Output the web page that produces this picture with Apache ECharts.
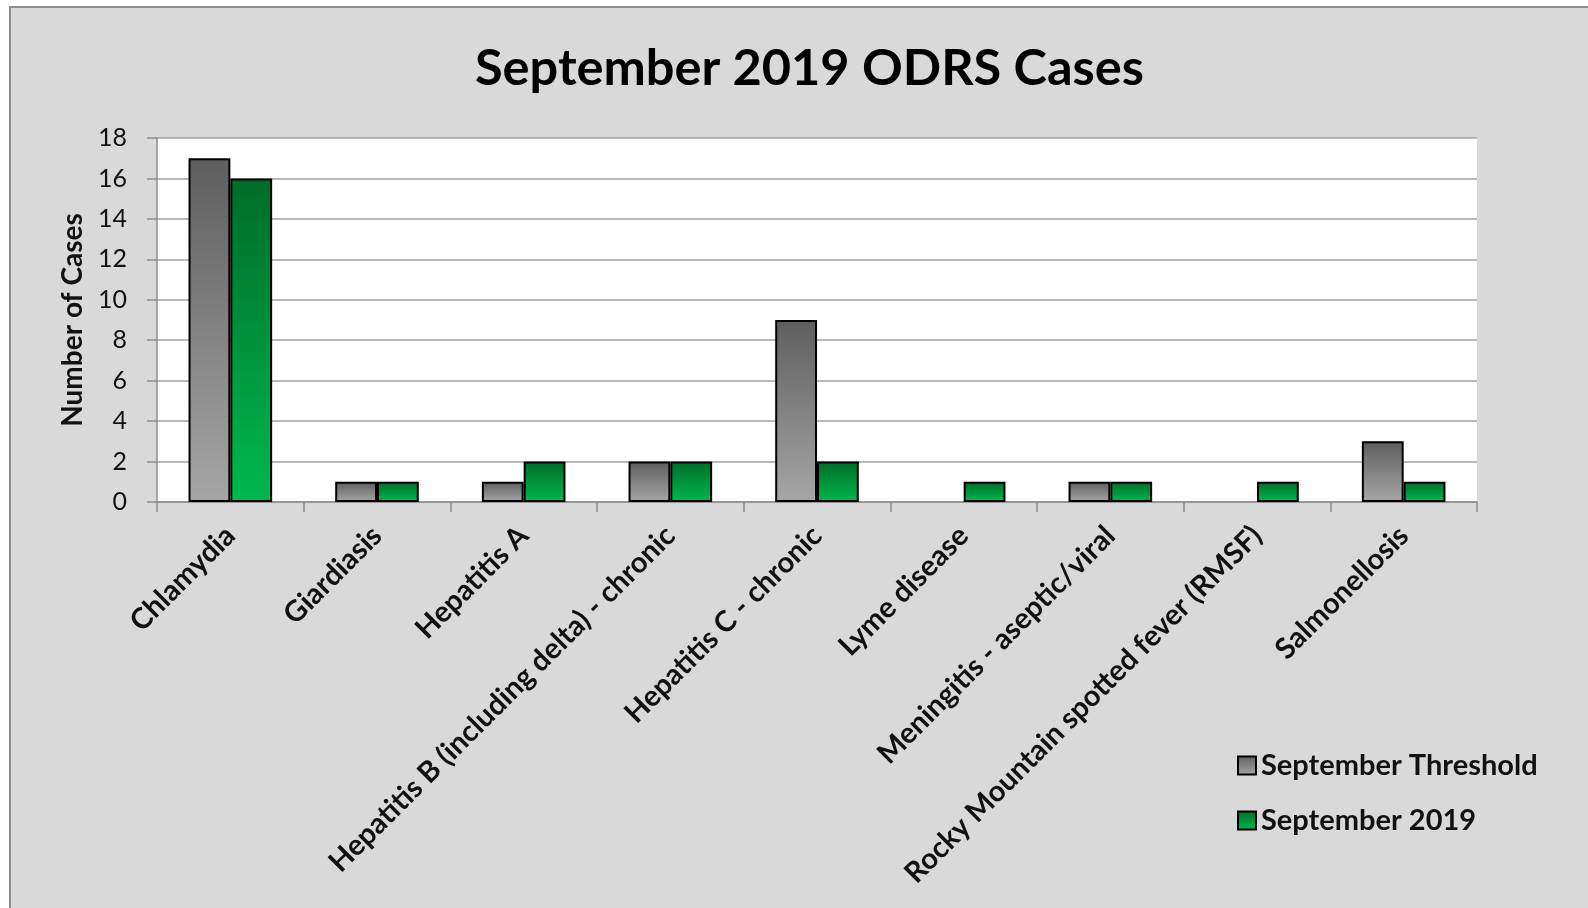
<!DOCTYPE html>
<html><head><meta charset="utf-8">
<script src="https://cdn.jsdelivr.net/npm/echarts@6/dist/echarts.min.js"></script>
<style>
html,body{margin:0;padding:0;background:#fff;width:1588px;height:908px;overflow:hidden}
#frame{position:absolute;left:9px;top:6px;width:1600px;height:920px;background:#d9d9d9;border-left:2px solid #8c8c8c;border-top:2px solid #8c8c8c}
#chart{position:absolute;left:0;top:0;width:1588px;height:908px}
</style></head>
<body>
<div id="frame"></div>
<div id="chart"></div>
<script>
const categories = ["Chlamydia","Giardiasis","Hepatitis A","Hepatitis B (including delta) - chronic","Hepatitis C - chronic","Lyme disease","Meningitis - aseptic/viral","Rocky Mountain spotted fever (RMSF)","Salmonellosis"];
const thresholdValues = [17,1,1,2,9,0,1,0,3];
const sept2019Values = [16,1,2,2,2,1,1,1,1];
const seriesNames = ["September Threshold","September 2019"];
const yTicks = {min:0,max:18,interval:2};

const FONT = 'Lato, "Open Sans", sans-serif';
const chart = echarts.init(document.getElementById('chart'), null, {renderer:'canvas'});
function grad(top,bottom){return new echarts.graphic.LinearGradient(0,0,0,1,[{offset:0,color:top},{offset:1,color:bottom}]);}
const grayStyle = {color:grad('#5e5e5e','#a6a6a6'),borderColor:'#000',borderWidth:2};
const greenStyle = {color:grad('#006b28','#00b84f'),borderColor:'#000',borderWidth:2};
function mk(vals){return vals.map(v=>v===0?{value:v,itemStyle:{borderWidth:0}}:v);}
chart.setOption({
  backgroundColor:'transparent',
  animation:false,
  title:{text:'September 2019 ODRS Cases',left:470,top:38,
    textStyle:{fontFamily:FONT,fontWeight:'bold',fontSize:50.5,color:'#000'}},
  legend:{orient:'vertical',left:1232,top:746,itemWidth:18,itemHeight:18,itemGap:26,icon:'rect',
    textStyle:{fontFamily:FONT,fontSize:29,fontWeight:'bold',color:'#111'},
    data:seriesNames},
  grid:{left:157,top:138,width:1320,height:364,show:true,backgroundColor:'#fff',borderWidth:0},
  xAxis:{type:'category',data:categories,
    axisLine:{lineStyle:{color:'#8c8c8c',width:1.5}},
    axisTick:{show:true,length:10,lineStyle:{color:'#8c8c8c',width:1.5}},
    axisLabel:{rotate:45,margin:29,fontFamily:FONT,fontSize:29,fontWeight:'bold',color:'#111',interval:0}},
  yAxis:{type:'value',min:yTicks.min,max:yTicks.max,interval:yTicks.interval,
    name:'Number of Cases',nameLocation:'middle',nameGap:70,
    nameTextStyle:{fontFamily:FONT,fontSize:28,fontWeight:'bold',color:'#111'},
    axisLine:{show:true,lineStyle:{color:'#8c8c8c',width:1.5}},
    axisTick:{show:true,length:10,lineStyle:{color:'#8c8c8c',width:1.5}},
    axisLabel:{margin:30,fontFamily:FONT,fontSize:25,color:'#111'},
    splitLine:{lineStyle:{color:'#a0a0a0',width:1.5}}},
  series:[
    {name:seriesNames[0],type:'bar',data:mk(thresholdValues),itemStyle:grayStyle,barGap:'0%',barCategoryGap:'43%'},
    {name:seriesNames[1],type:'bar',data:mk(sept2019Values),itemStyle:greenStyle,barGap:'0%',barCategoryGap:'43%'}
  ]
});
</script>
</body></html>
